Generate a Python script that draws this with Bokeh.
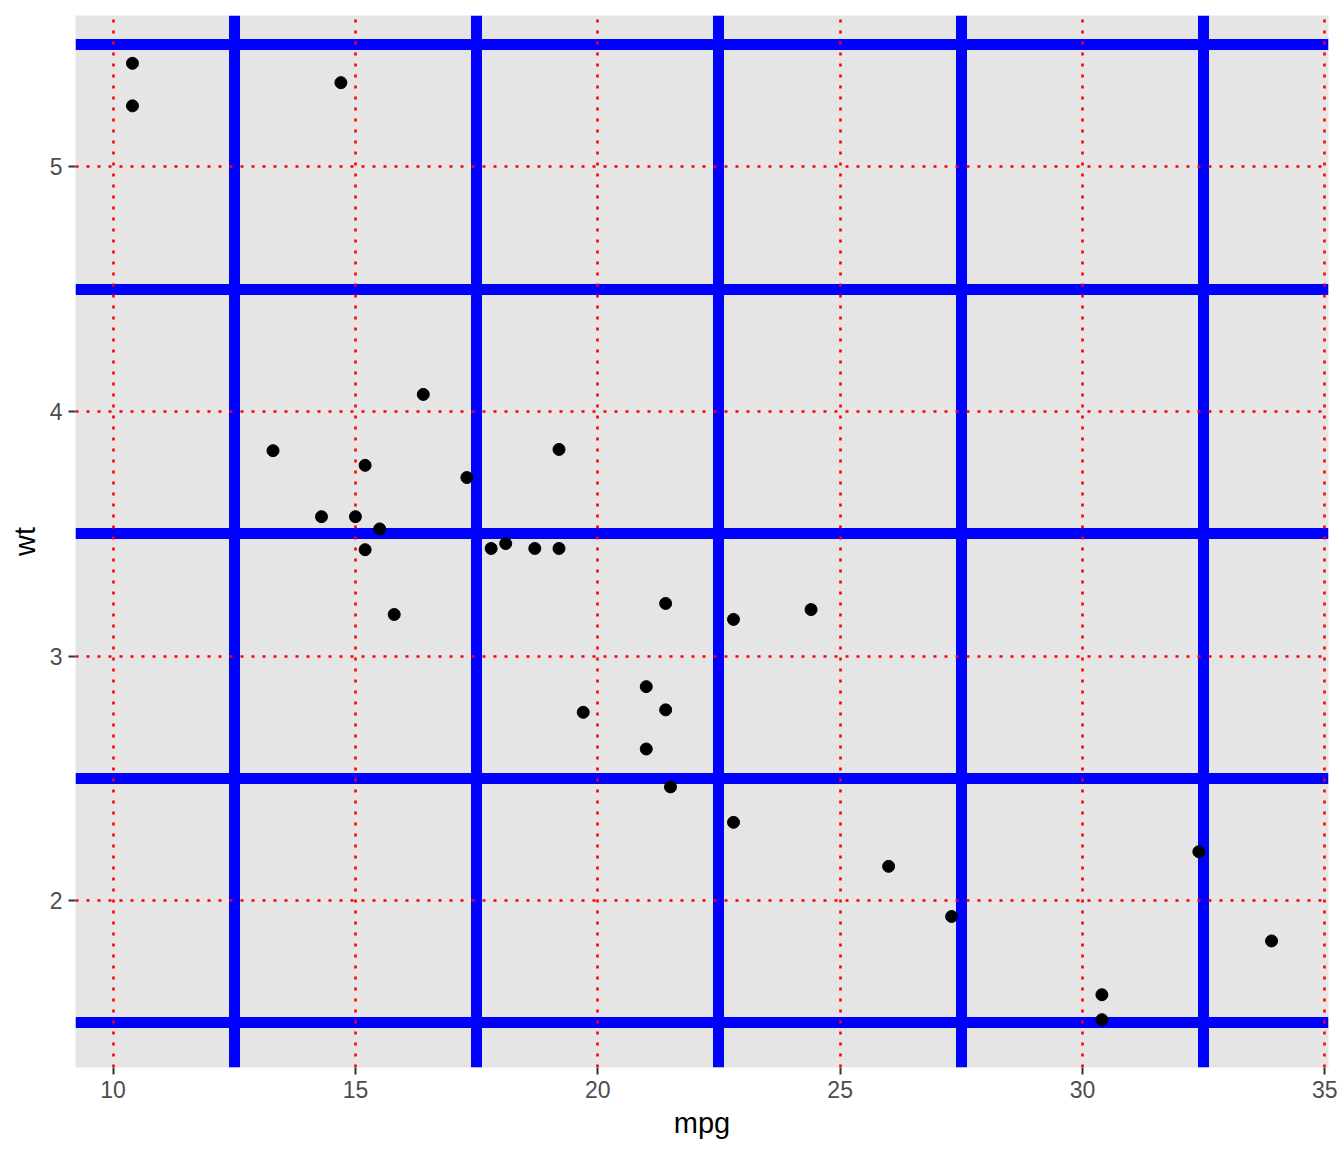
from bokeh.plotting import figure
from bokeh.models import Range1d, FixedTicker, Grid, ColumnDataSource
from bokeh.embed import file_html
from bokeh.resources import INLINE

mpg = [21.0, 21.0, 22.8, 21.4, 18.7, 18.1, 14.3, 24.4, 22.8, 19.2, 17.8, 16.4, 17.3, 15.2,
       10.4, 10.4, 14.7, 32.4, 30.4, 33.9, 21.5, 15.5, 15.2, 13.3, 19.2, 27.3, 26.0, 30.4,
       15.8, 19.7, 15.0, 21.4]
wt = [2.620, 2.875, 2.320, 3.215, 3.440, 3.460, 3.570, 3.190, 3.150, 3.440, 3.440, 4.070,
      3.730, 3.780, 5.250, 5.424, 5.345, 2.200, 1.615, 1.835, 2.465, 3.520, 3.435, 3.840,
      3.845, 1.935, 2.140, 1.513, 3.170, 2.770, 3.570, 2.780]

x_major = [10, 15, 20, 25, 30, 35]
x_minor = [12.5, 17.5, 22.5, 27.5, 32.5]
y_major = [2, 3, 4, 5]
y_minor = [1.5, 2.5, 3.5, 4.5, 5.5]

def expand(v, f=0.05):
    lo, hi = min(v), max(v)
    d = (hi - lo) * f
    return lo - d, hi + d

xr = expand(mpg)
yr = expand(wt)

p = figure(width=1344, height=1152, output_backend="svg", toolbar_location=None,
           x_range=Range1d(*xr), y_range=Range1d(*yr),
           min_border_left=75, min_border_right=16, min_border_top=15, min_border_bottom=85)
p.background_fill_color = "#E5E5E5"
p.outline_line_color = None
p.xgrid.visible = False
p.ygrid.visible = False

# blue thick grid (minor breaks)
for dim in (0, 1):
    g = Grid(dimension=dim, ticker=FixedTicker(ticks=(x_minor if dim == 0 else y_minor)),
             grid_line_color="#0000FF", grid_line_width=11)
    p.add_layout(g)
# red dotted grid (major breaks)
for dim in (0, 1):
    g = Grid(dimension=dim, ticker=FixedTicker(ticks=(x_major if dim == 0 else y_major)),
             grid_line_color="#FF0000", grid_line_width=2.6, grid_line_dash="3 8")
    p.add_layout(g)

src = ColumnDataSource(dict(mpg=mpg, wt=wt))
p.scatter("mpg", "wt", source=src, size=12, color="black")

p.xaxis.ticker = FixedTicker(ticks=x_major)
p.yaxis.ticker = FixedTicker(ticks=y_major)
p.xaxis.axis_label = "mpg"
p.yaxis.axis_label = "wt"
for ax in (p.xaxis, p.yaxis):
    ax.axis_line_color = None
    ax.major_tick_line_color = "#333333"
    ax.major_tick_line_width = 2
    ax.major_tick_out = 7
    ax.major_tick_in = 0
    ax.minor_tick_line_color = None
    ax.major_label_text_font = "Liberation Sans"
    ax.major_label_text_font_size = "23px"
    ax.major_label_text_color = "#4D4D4D"
    ax.major_label_standoff = 6
    ax.axis_label_text_font = "Liberation Sans"
    ax.axis_label_text_font_size = "29px"
    ax.axis_label_text_font_style = "normal"
    ax.axis_label_text_color = "black"
    ax.axis_label_standoff = 6

open("out.html", "w").write(file_html(p, INLINE))
